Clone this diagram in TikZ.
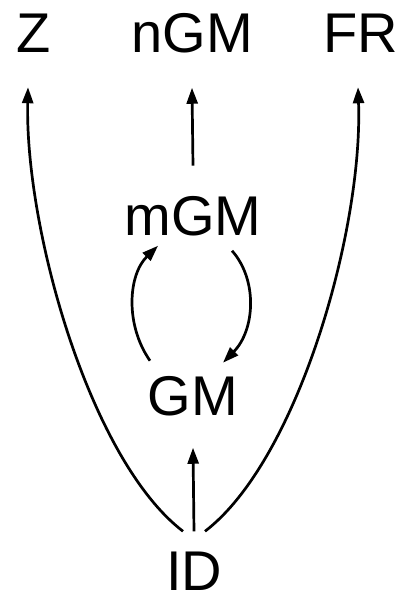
\documentclass[tikz,border=0pt]{standalone}
\usepackage{fontspec}
\setmainfont{Liberation Sans}
\usetikzlibrary{arrows.meta}
\begin{document}
\begin{tikzpicture}[x=1pt,y=-1pt,
  lbl/.style={inner sep=0pt,anchor=base,font=\fontsize{56}{60}\selectfont},
  arr/.style={line width=2.7pt,-{Triangle[length=16pt,width=11pt]}}]
\useasboundingbox (0,0) rectangle (403,598);
\node[lbl] (Z) at (34,52) {Z};
\node[lbl] (nGM) at (192,52) {nGM};
\node[lbl] (FR) at (361,52) {FR};
\node[lbl] (mGM) at (193,235) {mGM};
\node[lbl] (GM) at (193,415) {GM};
\node[lbl] (ID) at (194,590) {ID};
\draw[arr] ([xshift=-11pt,yshift=20pt]ID.north) .. controls (90,460) and (25,230) .. ([xshift=-6pt,yshift=-35pt]Z.south);
\draw[arr] ([xshift=11pt,yshift=20pt]ID.north) .. controls (298,460) and (363,230) .. ([xshift=-3pt,yshift=-35pt]FR.south);
\draw[arr] ([yshift=20pt]ID.north) -- ([yshift=-32pt]GM.south);
\draw[arr] ([yshift=30pt]mGM.north) -- ([yshift=-35pt]nGM.south);
\draw[arr] ([xshift=-43pt,yshift=15pt]GM.north) .. controls (125,325) and (128,275) .. ([xshift=-35pt,yshift=-10pt]mGM.south);
\draw[arr] ([xshift=39pt,yshift=-15pt]mGM.south) .. controls (258,280) and (255,330) .. ([xshift=30pt,yshift=13pt]GM.north);
\end{tikzpicture}
\end{document}
